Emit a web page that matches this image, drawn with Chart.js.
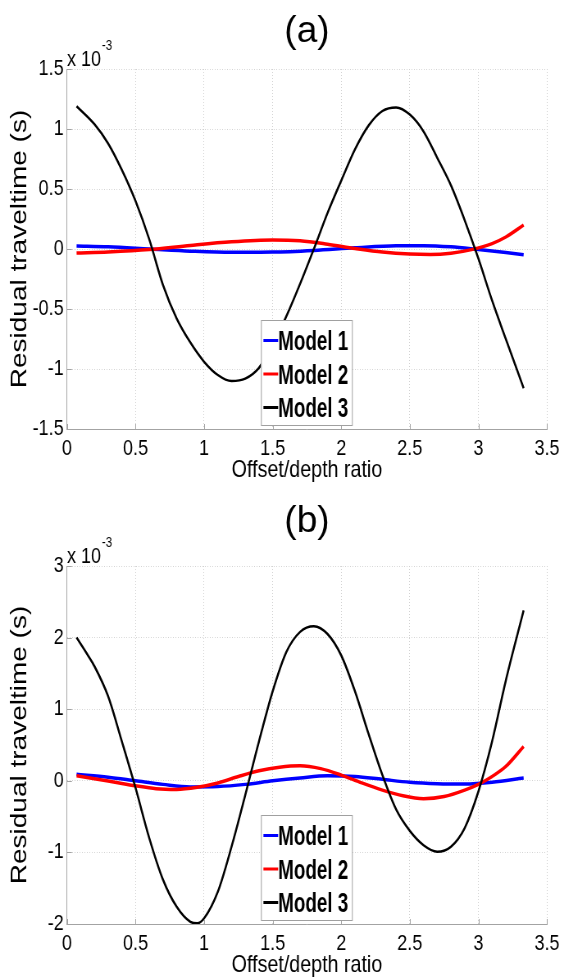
<!DOCTYPE html>
<html>
<head>
<meta charset="utf-8">
<script src="https://cdn.jsdelivr.net/npm/chart.js@4.4.1/dist/chart.umd.min.js"></script>
<style>
  html, body { margin: 0; padding: 0; background: #fff; }
  canvas { display: block; }
</style>
</head>
<body>
<canvas id="chartA" width="688" height="490" style="width:564px;height:490px"></canvas>
<canvas id="chartB" width="688" height="490" style="width:564px;height:490px"></canvas>
<script>
// ---- data (residuals in units of 1e-3 s) ----
const modelLabels = ['Model 1', 'Model 2', 'Model 3'];
const modelColors = ['#0000ff', '#ff0000', '#000000'];

// panel (a)
const offsetA1 = [0.07, 0.3, 0.6, 0.9, 1.2, 1.5, 1.8, 2.1, 2.4, 2.6, 2.8, 3.0, 3.2, 3.33];
const residA1 = [0.025, 0.018, 0.0, -0.018, -0.028, -0.026, -0.012, 0.01, 0.027, 0.028, 0.018, -0.005, -0.03, -0.048];
const offsetA2 = [0.07, 0.3, 0.6, 0.9, 1.2, 1.5, 1.7, 1.9, 2.1, 2.3, 2.5, 2.65, 2.8, 2.95, 3.1, 3.2, 3.33];
const residA2 = [-0.034, -0.025, -0.005, 0.03, 0.06, 0.075, 0.068, 0.04, 0.005, -0.025, -0.042, -0.046, -0.035, -0.005, 0.045, 0.1, 0.2];
const offsetA3 = [0.07, 0.2, 0.3, 0.4, 0.5, 0.6, 0.7, 0.8, 0.9, 1.0, 1.1, 1.2, 1.3, 1.4, 1.5, 1.6, 1.7,
                  1.8, 1.9, 2.0, 2.1, 2.2, 2.3, 2.4, 2.5, 2.6, 2.7, 2.8, 2.9, 3.0, 3.1, 3.2, 3.33];
const residA3 = [1.19, 1.04, 0.88, 0.66, 0.40, 0.08, -0.30, -0.58, -0.78, -0.94, -1.05, -1.10, -1.08, -0.99, -0.80, -0.56, -0.29,
                 0.0, 0.30, 0.57, 0.83, 1.03, 1.15, 1.18, 1.12, 0.98, 0.76, 0.53, 0.24, -0.08, -0.43, -0.75, -1.16];

// panel (b)
const offsetB1 = [0.07, 0.3, 0.5, 0.7, 0.9, 1.1, 1.3, 1.5, 1.7, 1.9, 2.1, 2.3, 2.5, 2.7, 2.9, 3.1, 3.33];
const residB1 = [0.09, 0.05, 0.0, -0.05, -0.085, -0.08, -0.05, 0.0, 0.04, 0.07, 0.06, 0.02, -0.02, -0.04, -0.045, -0.02, 0.04];
const offsetB2 = [0.07, 0.2, 0.35, 0.5, 0.65, 0.8, 0.95, 1.1, 1.25, 1.4, 1.55, 1.7, 1.85, 2.0, 2.15, 2.3, 2.45, 2.6, 2.75, 2.9, 3.0, 3.1, 3.2, 3.33];
const residB2 = [0.07, 0.03, -0.02, -0.07, -0.11, -0.12, -0.09, -0.03, 0.06, 0.14, 0.19, 0.21, 0.17, 0.08, -0.03, -0.13, -0.21, -0.25, -0.22, -0.13, -0.05, 0.06, 0.2, 0.48];
const offsetB3 = [0.07, 0.15, 0.2, 0.3, 0.4, 0.5, 0.6, 0.7, 0.8, 0.9, 0.95, 1.0, 1.1, 1.2, 1.3, 1.4, 1.5, 1.6, 1.7,
                  1.8, 1.9, 2.0, 2.1, 2.2, 2.3, 2.4, 2.5, 2.6, 2.7, 2.8, 2.9, 3.0, 3.1, 3.2, 3.33];
const residB3 = [2.0, 1.76, 1.60, 1.18, 0.55, -0.10, -0.80, -1.38, -1.76, -1.97, -1.99, -1.92, -1.55, -0.92, -0.20, 0.55, 1.25, 1.80, 2.08,
                 2.16, 2.05, 1.75, 1.25, 0.65, 0.08, -0.40, -0.70, -0.90, -0.99, -0.92, -0.66, -0.15, 0.55, 1.40, 2.38];

const xTicks = [0, 0.5, 1, 1.5, 2, 2.5, 3, 3.5];
const yTicksA = [-1.5, -1, -0.5, 0, 0.5, 1, 1.5];
const yTicksB = [-2, -1, 0, 1, 2, 3];

const xTitle = 'Offset/depth ratio';
const yTitle = 'Residual traveltime (s)';
const expBase = 'x 10';
const expPower = '-3';

// ---- look ----
const FONT = '"Liberation Sans", Arial, Helvetica, sans-serif';
const SX = 564 / 688;            // canvas is squeezed horizontally like the original figure
const AXIS = '#a3a3a3';
const GRID = '#d2d2d2';

const toPoints = (xs, ys) => xs.map((x, i) => ({ x, y: ys[i] }));

function makeDecor(panelTitle) {
  return {
    id: 'matlabDecor',
    afterDraw(chart) {
      const { ctx, chartArea: a, scales: { x, y } } = chart;
      ctx.save();

      // short inward tick marks
      ctx.strokeStyle = AXIS;
      ctx.lineWidth = 1;
      ctx.beginPath();
      x.ticks.forEach(t => {
        const px = Math.round(x.getPixelForValue(t.value)) + 0.5;
        ctx.moveTo(px, a.bottom); ctx.lineTo(px, a.bottom - 5);
      });
      y.ticks.forEach(t => {
        const py = Math.round(y.getPixelForValue(t.value)) + 0.5;
        ctx.moveTo(a.left, py); ctx.lineTo(a.left + 6, py);
      });
      ctx.stroke();

      // exponent above the y axis
      ctx.fillStyle = '#000';
      ctx.textAlign = 'left';
      ctx.textBaseline = 'alphabetic';
      ctx.font = '22px ' + FONT;
      ctx.fillText(expBase, a.left, a.top - 3);
      const w = ctx.measureText(expBase).width;
      ctx.font = '14px ' + FONT;
      ctx.fillText(expPower, a.left + w + 1, a.top - 19);

      // panel title, drawn without the squeeze
      ctx.save();
      ctx.translate((a.left + a.right) / 2, 42);
      ctx.scale(1 / SX, 1);
      ctx.font = '37px ' + FONT;
      ctx.textAlign = 'center';
      ctx.fillText(panelTitle, 0, 0);
      ctx.restore();

      // legend box inside the plot
      const boxW = 111, boxH = 105;
      const boxL = a.left + 236.6;
      const boxT = a.bottom - 4 - boxH;
      ctx.fillStyle = '#fff';
      ctx.fillRect(boxL, boxT, boxW, boxH);
      ctx.strokeStyle = '#a0a0a0';
      ctx.lineWidth = 1;
      ctx.strokeRect(boxL + 0.5, boxT + 0.5, boxW, boxH);
      chart.data.datasets.forEach((ds, i) => {
        const base = boxT + 30 + i * 33.5;
        ctx.strokeStyle = ds.borderColor;
        ctx.lineWidth = 3;
        ctx.beginPath();
        ctx.moveTo(boxL + 3, base - 9.5);
        ctx.lineTo(boxL + 21, base - 9.5);
        ctx.stroke();
        ctx.save();
        ctx.translate(boxL + 21, base);
        ctx.scale(0.85, 1);
        ctx.fillStyle = '#000';
        ctx.font = 'bold 27px ' + FONT;
        ctx.fillText(ds.label, 0, 0);
        ctx.restore();
      });

      ctx.restore();
    }
  };
}

function buildChart(id, series, yTicks, plotTop, xAxisHeight, xTitlePad, panelTitle) {
  const widths = [3.5, 3.5, 2.5];
  return new Chart(document.getElementById(id), {
    type: 'line',
    data: {
      datasets: series.map((pts, i) => ({
        label: modelLabels[i],
        data: pts,
        borderColor: modelColors[i],
        borderWidth: widths[i],
        pointRadius: 0,
        cubicInterpolationMode: 'monotone',
        order: 3 - i,
      })),
    },
    options: {
      responsive: false,
      devicePixelRatio: 1,
      animation: false,
      events: [],
      layout: { padding: { top: plotTop, right: 20.8, bottom: 0, left: 0 } },
      plugins: { legend: { display: false }, tooltip: { enabled: false } },
      scales: {
        x: {
          type: 'linear',
          min: xTicks[0],
          max: xTicks[xTicks.length - 1],
          afterBuildTicks: s => { s.ticks = xTicks.map(v => ({ value: v })); },
          ticks: { color: '#000', font: { family: FONT, size: 22 }, padding: 7, maxRotation: 0, autoSkip: false,
                   callback: v => String(v) },
          grid: { color: GRID, drawTicks: false },
          border: { color: AXIS, width: 1, dash: [1, 2] },
          title: {
            display: true, text: xTitle, color: '#000',
            font: { family: FONT, size: 24, lineHeight: 1 },
            padding: { top: 0, bottom: xTitlePad },
          },
          afterFit: s => { s.height = xAxisHeight; s.paddingLeft = 0; s.paddingRight = 0; },
        },
        y: {
          min: yTicks[0],
          max: yTicks[yTicks.length - 1],
          afterBuildTicks: s => { s.ticks = yTicks.map(v => ({ value: v })); },
          ticks: { color: '#000', font: { family: FONT, size: 22 }, padding: 4, callback: v => String(v) },
          grid: { color: GRID, drawTicks: false },
          border: { color: AXIS, width: 1, dash: [1, 2] },
          title: {
            display: true, text: yTitle, color: '#000',
            font: { family: FONT, size: 28, lineHeight: 1.2 },
            padding: { top: 7, bottom: 0 },
          },
          afterFit: s => { s.width = 81.7; s.paddingTop = 0; s.paddingBottom = 0; },
        },
      },
    },
    plugins: [makeDecor(panelTitle)],
  });
}

buildChart('chartA',
  [toPoints(offsetA1, residA1), toPoints(offsetA2, residA2), toPoints(offsetA3, residA3)],
  yTicksA, 69, 61, 7.5, '(a)');
buildChart('chartB',
  [toPoints(offsetB1, residB1), toPoints(offsetB2, residB2), toPoints(offsetB3, residB3)],
  yTicksB, 76, 56, 2.5, '(b)');
</script>
</body>
</html>
